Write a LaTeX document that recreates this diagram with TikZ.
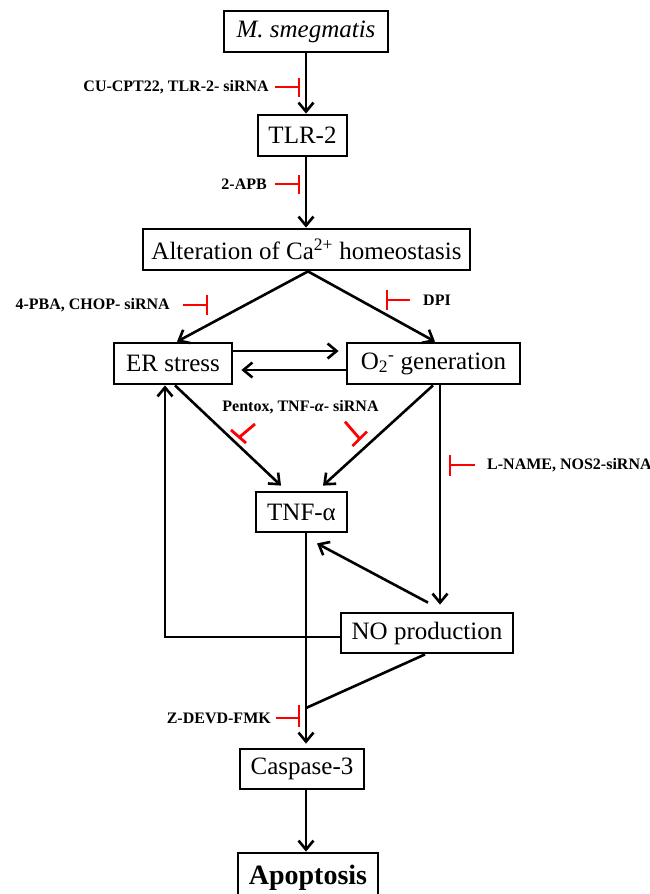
\documentclass[tikz,border=0pt]{standalone}
\usepackage{fontspec}
\setmainfont{Liberation Serif}
\usetikzlibrary{arrows.meta}
\begin{document}
\begin{tikzpicture}[x=1pt,y=-1pt,
  box/.style={draw,line width=2.8pt,inner sep=0pt,font=\fontsize{25}{27}\selectfont},
  conn/.style={line width=2.6pt,-{Straight Barb[length=9pt,width=15pt,line width=2.6pt]}},
  plain/.style={line width=2.6pt},
  inh/.style={draw=red,line width=2.8pt},
  lab/.style={font=\fontsize{16}{18}\selectfont\bfseries,inner sep=0pt}]
\useasboundingbox (0,0) rectangle (650,894);
\clip (0,0) rectangle (650,894);
% boxes
\node[box,minimum width=164pt,minimum height=41pt] (ms) at (306,31.5) {\itshape M. smegmatis};
\node[box,minimum width=89pt,minimum height=41pt] (tlr) at (302.5,135.5) {TLR-2};
\node[box,minimum width=327pt,minimum height=41pt] (alt) at (306.5,249.5) {Alteration of Ca\textsuperscript{2+} homeostasis};
\node[box,minimum width=118pt,minimum height=41pt] (er) at (173,363.5) {ER stress};
\node[box,minimum width=173pt,minimum height=41pt] (o2) at (433.5,363.5) {O\textsubscript{2}\textsuperscript{-} generation};
\node[box,minimum width=91pt,minimum height=40pt] (tnf) at (301.5,512) {TNF-α};
\node[box,minimum width=172pt,minimum height=40pt] (no) at (427,633) {NO production};
\node[box,minimum width=124pt,minimum height=40pt] (casp) at (302,769) {Caspase-3};
\node[box,minimum width=140pt,minimum height=50pt,font=\fontsize{28}{30}\selectfont\bfseries] (apo) at (308,878) {Apoptosis};
\coordinate (jn) at (306,708);
% connectors
\draw[conn] (ms.south) -- (ms.south |- tlr.north);
\draw[conn] (ms.south |- tlr.south) -- (ms.south |- alt.north);
\draw[conn] ([xshift=1.5pt]alt.south) -- ([xshift=4pt]er.north);
\draw[conn] ([xshift=1.5pt]alt.south) -- ([xshift=1.5pt]o2.north);
\draw[conn] ([yshift=12.5pt]er.east) -- ([yshift=12.5pt,xshift=-7pt]o2.west);
\draw[conn] ([yshift=-6.5pt]o2.west) -- ([yshift=-6.5pt,xshift=8pt]er.east);
\draw[conn] ([xshift=2pt]er.south) -- ([xshift=-20.5pt,yshift=5pt]tnf.north);
\draw[conn] ([xshift=-0.5pt]o2.south) -- ([xshift=21.5pt,yshift=5pt]tnf.north);
\draw[conn] ([xshift=6.5pt]o2.south) -- ([xshift=13pt,yshift=7pt]no.north);
\draw[conn] ([xshift=1pt,yshift=9pt]no.north) -- ([xshift=15.5pt,yshift=-10pt]tnf.south);
\draw[conn] ([yshift=-4pt]no.west) -| ([xshift=-8pt]er.south);
\draw[conn] (jn |- tnf.south) -- ([yshift=4pt]jn |- casp.north);
\draw[plain] ([xshift=-2pt]no.south) -- (jn);
\draw[conn] (jn |- casp.south) -- (jn |- apo.north);
% inhibitors
\draw[inh] (275,87) -- (299,87) (299,78) -- (299,97);
\draw[inh] (275,184) -- (299,184) (299,175) -- (299,194);
\draw[inh] (183,305) -- (207,305) (207,295) -- (207,315);
\draw[inh] (410,300) -- (387,300) (387,290) -- (387,310);
\draw[inh] (475,465) -- (450,465) (450,455) -- (450,476);
\draw[inh] (276,718) -- (299,718) (299,705) -- (299,727);
\draw[inh] (255,424) -- (239,437.5) (231,430) -- (246,443);
\draw[inh] (345,421.7) -- (359.5,438.5) (352.5,446) -- (367,431.5);
% labels
\node[lab,anchor=east] (l1) at (269,87) {CU-CPT22, TLR-2- siRNA};
\node[lab,anchor=east] (l2) at (267,184) {2-APB};
\node[lab,anchor=east] (l3) at (170,305) {4-PBA, CHOP- siRNA};
\node[lab,anchor=west] (l4) at (423,300) {DPI};
\node[lab] (l5) at (300.5,407) {Pentox, TNF-\textit{α}- siRNA};
\node[lab,anchor=west] (l6) at (487,465) {L-NAME, NOS2-siRNA};
\node[lab,anchor=east] (l7) at (271,718) {Z-DEVD-FMK};
\end{tikzpicture}
\end{document}
